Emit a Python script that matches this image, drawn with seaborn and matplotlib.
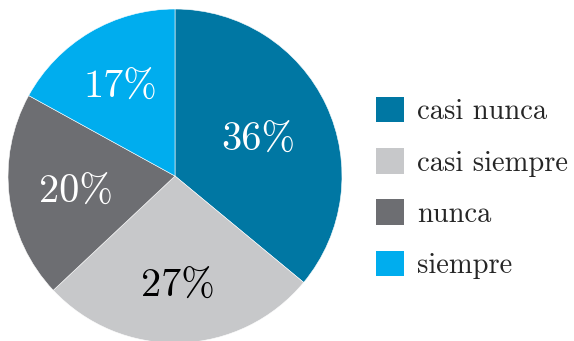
import matplotlib
matplotlib.use("Agg")
import numpy as np
import matplotlib.pyplot as plt
import matplotlib.patches as mpatches
import seaborn as sns

categories = ["casi nunca", "casi siempre", "nunca", "siempre"]
percentages = [36, 27, 20, 17]
colors = ["#0077a3", "#c7c8ca", "#6d6e72", "#00adee"]
label_colors = ["white", "black", "white", "white"]
# radial position of each percentage label, as a fraction of the radius
label_dist = [0.55, 0.64, 0.6, 0.64]

sns.set_theme(style="white")
palette = sns.color_palette(colors)
plt.rcParams["font.family"] = ["cmr10", "DejaVu Serif"]
plt.rcParams["axes.formatter.use_mathtext"] = True

fig = plt.figure(figsize=(5.74, 3.41), dpi=100)
ax = fig.add_axes([(175 - 167) / 574, (341 - 176 - 167) / 341, 334 / 574, 334 / 341])

wedges, texts, autotexts = ax.pie(
    percentages,
    colors=palette,
    startangle=90,
    counterclock=False,
    autopct=lambda p: f"{p:.0f}%",
    pctdistance=0.6,
    wedgeprops=dict(edgecolor="white", linewidth=0.4),
    textprops=dict(fontsize=29),
)
for w, t, c, d in zip(wedges, autotexts, label_colors, label_dist):
    mid = np.deg2rad((w.theta1 + w.theta2) / 2)
    t.set_position((d * np.cos(mid), d * np.sin(mid)))
    t.set_verticalalignment("center_baseline")
    t.set_color(c)
ax.set_xlim(-1, 1)
ax.set_ylim(-1, 1)
ax.set_aspect("equal")

handles = [mpatches.Patch(facecolor=c, edgecolor="none") for c in palette]
fig.legend(
    handles, categories,
    loc="center left", bbox_to_anchor=(376 / 574, (341 - 188) / 341),
    frameon=False, fontsize=20.5,
    handlelength=1.0, handleheight=1.0, handletextpad=0.45,
    labelspacing=0.8, borderaxespad=0, borderpad=0,
)

fig.savefig("out.png", dpi=100)
